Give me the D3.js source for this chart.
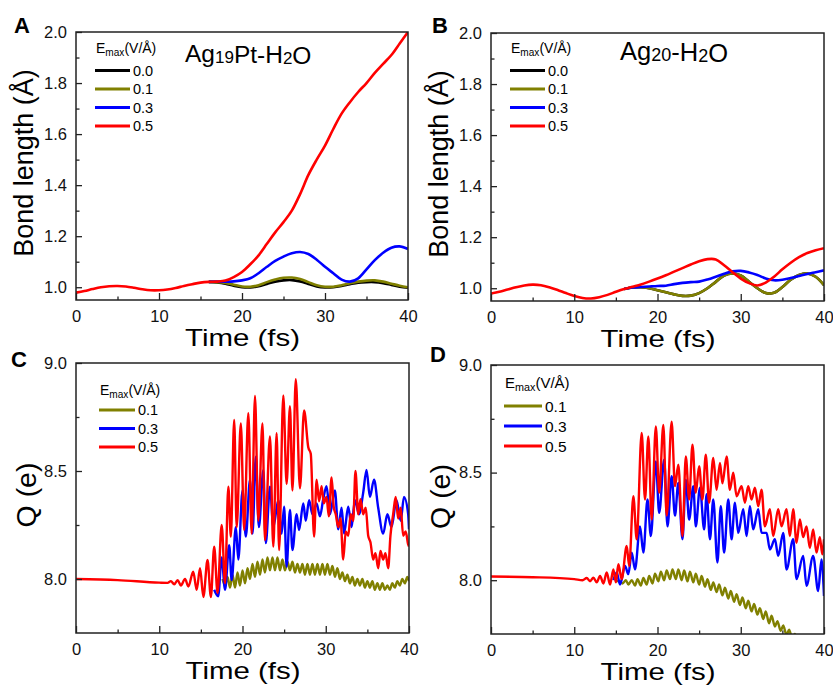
<!DOCTYPE html>
<html>
<head>
<meta charset="utf-8">
<script src="https://cdn.jsdelivr.net/npm/d3@7"></script>
<style>
  body { margin: 0; background: #fff; }
  svg { font-family: Arial, "Liberation Sans", sans-serif; }
</style>
</head>
<body>
<div id="chart"></div>
<script>
// ---- data ----
var fieldLabels = ["0.0", "0.1", "0.3", "0.5"];
var fieldColors = ["#000000", "#808000", "#0000ff", "#ff0000"];

var tFull = [0,1,2,3,4,5,6,7,8,9,10,11,12,13,14,15,16,17,18,19,20,21,22,23,24,25,26,27,28,29,30,31,32,33,34,35,36,37,38,39,40];
var tLate = [16,17,18,19,20,21,22,23,24,25,26,27,28,29,30,31,32,33,34,35,36,37,38,39,40];

// panel A : Ag19Pt-H2O bond length
var bondA_05 = [0.979,0.985,0.993,1.0,1.004,1.005,1.003,0.998,0.992,0.988,0.988,0.991,0.997,1.005,1.012,1.018,1.021,1.022,1.026,1.04,1.06,1.09,1.125,1.17,1.215,1.255,1.30,1.365,1.44,1.50,1.555,1.62,1.68,1.725,1.765,1.80,1.84,1.875,1.91,1.955,2.0];
var bondA_03 = [1.021,1.022,1.022,1.023,1.027,1.035,1.055,1.08,1.103,1.12,1.133,1.138,1.13,1.108,1.08,1.055,1.03,1.022,1.035,1.07,1.106,1.135,1.155,1.16,1.15];
var bondA_01 = [1.021,1.02,1.017,1.01,1.003,1.002,1.008,1.02,1.03,1.037,1.038,1.032,1.02,1.008,1.002,1.002,1.008,1.016,1.022,1.026,1.027,1.022,1.014,1.006,1.0];
var bondA_00 = [1.021,1.019,1.014,1.006,1.0,0.999,1.004,1.013,1.022,1.027,1.028,1.023,1.013,1.003,0.999,1.0,1.005,1.012,1.018,1.02,1.02,1.016,1.009,1.002,0.998];

// panel B : Ag20-H2O bond length
var bondB_05 = [0.979,0.986,0.995,1.004,1.011,1.014,1.012,1.004,0.993,0.981,0.97,0.962,0.96,0.965,0.974,0.986,0.997,1.006,1.015,1.026,1.038,1.051,1.065,1.079,1.093,1.106,1.114,1.113,1.09,1.063,1.038,1.02,1.011,1.022,1.045,1.074,1.1,1.122,1.138,1.149,1.157];
var bondB_03 = [0.997,1.003,1.005,1.007,1.009,1.01,1.016,1.021,1.024,1.026,1.034,1.045,1.057,1.066,1.068,1.062,1.052,1.038,1.031,1.033,1.04,1.048,1.056,1.063,1.07];
var bondB_01 = [0.997,1.003,1.004,1.0,0.992,0.984,0.976,0.97,0.971,0.981,1.0,1.025,1.05,1.058,1.05,1.025,1.0,0.981,0.982,1.005,1.033,1.052,1.058,1.045,1.012];
var bondB_00 = [0.997,1.003,1.004,1.0,0.992,0.984,0.976,0.97,0.971,0.981,1.0,1.025,1.05,1.058,1.05,1.025,1.0,0.981,0.982,1.005,1.033,1.052,1.058,1.045,1.012];

// panel C : Ag19Pt-H2O charge Q, [time, Q] pairs
var qC_05 = [[0,8.0],[5,7.995],[10,7.983],[11,7.982],[11.4,7.99],[11.8,7.975],[12.2,7.995],[12.6,7.97],[13.1,8.0],[13.5,7.965],[14.08,8.034],[14.5,7.95],[14.9,8.05],[15.3,7.917],[15.8,8.088],[16.2,7.917],[16.6,8.15],[17.0,7.935],[17.5,8.25],[17.9,7.98],[18.3,8.427],[18.6,8.196],[19.0,8.736],[19.3,8.24],[19.8,8.72],[20.2,8.227],[20.7,8.768],[21.1,8.21],[21.5,8.847],[21.9,8.27],[22.4,8.72],[22.7,8.18],[23.3,8.66],[23.7,8.15],[24.1,8.675],[24.4,8.134],[24.9,8.85],[25.3,8.44],[25.7,8.80],[26.0,8.41],[26.4,8.925],[26.9,8.42],[27.4,8.78],[27.9,8.61],[28.2,8.58],[28.6,8.196],[28.9,8.46],[29.2,8.36],[29.5,8.43],[29.77,8.35],[30.09,8.38],[30.37,8.29],[30.7,8.47],[30.97,8.33],[31.2,8.3],[31.5,8.24],[31.77,8.28],[32.1,8.09],[32.4,8.22],[32.7,8.2],[33.0,8.3],[33.3,8.27],[33.57,8.5],[33.9,8.3],[34.17,8.37],[34.5,8.3],[34.8,8.33],[35.1,8.2],[35.37,8.17],[35.7,8.09],[35.97,8.12],[36.3,8.05],[36.57,8.13],[36.9,8.09],[37.17,8.12],[37.5,8.05],[37.77,8.2],[38.1,8.3],[38.4,8.38],[38.7,8.28],[39.0,8.33],[39.3,8.2],[39.6,8.22],[39.9,8.16],[40,8.15]];
var qC_03 = [[16.6,7.95],[17.08,7.92],[17.5,8.10],[17.9,7.95],[18.4,8.157],[18.7,7.995],[19.2,8.24],[19.5,8.09],[20.0,8.41],[20.4,8.196],[20.9,8.46],[21.2,8.21],[21.6,8.566],[21.97,8.24],[22.5,8.505],[22.8,8.166],[23.3,8.427],[23.7,8.24],[24.3,8.365],[24.7,8.21],[25.0,8.335],[25.3,8.057],[25.7,8.32],[26.0,8.134],[26.5,8.3],[26.8,8.227],[27.3,8.35],[27.6,8.27],[28.0,8.365],[28.4,8.3],[28.9,8.35],[29.3,8.29],[29.7,8.37],[30.1,8.43],[30.5,8.30],[31.1,8.41],[31.5,8.23],[31.9,8.33],[32.2,8.21],[32.7,8.335],[33.1,8.24],[33.5,8.365],[34.0,8.3],[34.5,8.4],[34.9,8.505],[35.3,8.38],[35.8,8.46],[36.3,8.33],[36.9,8.21],[37.4,8.3],[37.9,8.24],[38.5,8.365],[39.0,8.27],[39.4,8.38],[39.9,8.3],[40,8.23]];
var qC_01 = [[17.6,8.0],[17.9,7.97],[18.2,8.01],[18.5,7.96],[18.8,8.02],[19.1,7.96],[19.4,8.03],[19.7,7.97],[20.0,8.04],[20.3,7.98],[20.6,8.05],[20.9,8.0],[21.2,8.07],[21.5,8.01],[21.8,8.08],[22.1,8.02],[22.4,8.09],[22.7,8.03],[23.0,8.1],[23.3,8.04],[23.6,8.1],[23.9,8.04],[24.2,8.1],[24.5,8.04],[24.8,8.09],[25.1,8.04],[25.4,8.08],[25.7,8.04],[26.0,8.08],[26.3,8.03],[26.6,8.07],[26.9,8.03],[27.2,8.07],[27.5,8.02],[27.8,8.07],[28.1,8.02],[28.4,8.07],[28.7,8.02],[29.0,8.07],[29.3,8.02],[29.6,8.07],[29.9,8.02],[30.2,8.07],[30.5,8.02],[30.8,8.06],[31.1,8.01],[31.4,8.05],[31.7,8.0],[32.0,8.03],[32.3,7.99],[32.6,8.02],[32.9,7.98],[33.2,8.01],[33.5,7.97],[33.8,8.0],[34.1,7.97],[34.4,8.0],[34.7,7.96],[35.0,7.99],[35.3,7.96],[35.6,7.99],[35.9,7.95],[36.2,7.98],[36.5,7.95],[36.8,7.98],[37.1,7.95],[37.4,7.97],[37.7,7.95],[38.0,7.98],[38.3,7.96],[38.6,7.99],[38.9,7.97],[39.2,8.0],[39.5,7.98],[39.8,8.01],[40,7.99]];

// panel D : Ag20-H2O charge Q, [time, Q] pairs
var qD_05 = [[0,8.017],[5,8.014],[10,8.005],[11,8.0],[11.5,8.01],[11.9,7.995],[12.3,8.012],[12.7,7.99],[13.1,8.02],[13.5,7.985],[13.9,8.036],[14.3,7.98],[14.7,8.05],[15.0,7.99],[15.3,8.074],[15.7,8.005],[16.3,8.159],[16.6,8.066],[17.1,8.39],[17.5,8.19],[18.1,8.684],[18.5,8.375],[18.9,8.668],[19.3,8.282],[19.8,8.714],[20.2,8.406],[20.7,8.722],[21.1,8.3],[21.7,8.737],[22.1,8.437],[22.5,8.537],[23.0,8.205],[23.4,8.575],[23.8,8.375],[24.2,8.63],[24.6,8.406],[25.0,8.53],[25.4,8.375],[25.8,8.583],[26.2,8.36],[26.7,8.568],[27.1,8.42],[27.5,8.545],[27.8,8.45],[28.3,8.575],[28.7,8.42],[29.1,8.5],[29.5,8.39],[30.1,8.437],[30.5,8.36],[30.9,8.437],[31.3,8.375],[31.7,8.43],[32.1,8.344],[32.5,8.42],[32.9,8.25],[33.5,8.33],[33.9,8.205],[34.5,8.33],[34.9,8.25],[35.5,8.33],[35.9,8.205],[36.3,8.33],[36.7,8.174],[37.1,8.282],[37.5,8.2],[37.9,8.25],[38.3,8.15],[38.7,8.236],[39.1,8.128],[39.5,8.2],[39.8,8.12],[40,8.19]];
var qD_03 = [[14.7,8.0],[15.1,8.036],[15.5,7.98],[16.1,8.066],[16.5,8.028],[16.9,8.128],[17.3,8.05],[17.9,8.25],[18.3,8.128],[18.8,8.375],[19.2,8.205],[19.8,8.552],[20.2,8.313],[20.8,8.56],[21.2,8.25],[21.7,8.483],[22.1,8.3],[22.5,8.452],[23.0,8.19],[23.4,8.467],[23.8,8.282],[24.3,8.437],[24.6,8.25],[25.1,8.43],[25.6,8.236],[25.9,8.4],[26.3,8.19],[26.7,8.375],[27.2,8.082],[27.6,8.344],[28.0,8.128],[28.5,8.375],[28.9,8.19],[29.3,8.36],[29.7,8.22],[30.3,8.33],[30.7,8.205],[31.1,8.344],[31.5,8.236],[32.1,8.33],[32.5,8.22],[33.1,8.22],[33.5,8.143],[34.1,8.19],[34.5,8.113],[35.1,8.22],[35.5,8.05],[36.3,8.19],[36.7,8.005],[37.5,8.113],[37.9,7.974],[38.7,8.113],[39.3,7.95],[39.7,8.097],[40,7.927]];
var qD_01 = [[15.0,7.995],[15.4,7.997],[15.8,7.985],[16.2,8.0],[16.5,7.98],[16.9,8.0],[17.3,7.975],[17.6,8.005],[18.0,7.975],[18.3,8.01],[18.7,7.98],[19.0,8.02],[19.4,7.985],[19.7,8.03],[20.1,7.995],[20.4,8.04],[20.8,8.0],[21.1,8.045],[21.5,8.005],[21.8,8.05],[22.2,8.005],[22.5,8.05],[22.9,8.0],[23.2,8.045],[23.6,7.995],[23.9,8.04],[24.3,7.99],[24.6,8.03],[25.0,7.98],[25.3,8.02],[25.7,7.97],[26.0,8.005],[26.4,7.955],[26.7,7.99],[27.1,7.945],[27.4,7.98],[27.8,7.93],[28.1,7.965],[28.5,7.915],[28.8,7.95],[29.2,7.9],[29.5,7.935],[29.9,7.885],[30.2,7.92],[30.6,7.87],[30.9,7.905],[31.3,7.855],[31.6,7.89],[32.0,7.84],[32.3,7.87],[32.7,7.82],[33.0,7.855],[33.4,7.8],[33.7,7.835],[34.1,7.785],[34.4,7.81],[34.8,7.765],[35.1,7.79],[35.5,7.745],[35.8,7.77],[36.2,7.73],[36.5,7.75],[36.9,7.7]];

var xMajor = [0, 10, 20, 30, 40];
var xMinor = [5, 15, 25, 35];
var bondMajor = [1.0, 1.2, 1.4, 1.6, 1.8, 2.0];
var bondMinor = [1.1, 1.3, 1.5, 1.7, 1.9];
var qMajor = [8.0, 8.5, 9.0];
var qMinor = [8.25, 8.75];

// ---- svg ----
var svg = d3.select("#chart").append("svg")
  .attr("width", 833)
  .attr("height", 685);

svg.append("rect").attr("width", 833).attr("height", 685).attr("fill", "#fff");

function pairs(ts, vs) {
  return ts.map(function(t, i) { return [t, vs[i]]; });
}

function drawPanel(p) {
  var g = svg.append("g").attr("transform", `translate(${p.left}, ${p.top})`);

  var x = d3.scaleLinear().domain([0, 40]).range([0, p.width]);
  var y = d3.scaleLinear().domain(p.yDomain).range([p.height, 0]);

  g.append("clipPath").attr("id", "clip" + p.id)
    .append("rect").attr("width", p.width).attr("height", p.height);

  // lines
  var line = d3.line()
    .x(function(d) { return x(d[0]); })
    .y(function(d) { return y(d[1]); })
    .curve(p.curve);

  var lines = g.append("g").attr("clip-path", `url(#clip${p.id})`);
  p.series.forEach(function(s) {
    lines.append("path")
      .datum(s.data)
      .attr("d", line)
      .attr("fill", "none")
      .attr("stroke", s.color)
      .attr("stroke-width", p.lineWidth)
      .attr("stroke-linejoin", "round");
  });

  // axes, ticks pointing inward
  var xAx = g.append("g").attr("transform", `translate(0, ${p.height})`)
    .call(d3.axisBottom(x).tickValues(xMajor).tickSize(-7).tickPadding(10).tickFormat(d3.format("d")));
  var xAxMinor = g.append("g").attr("transform", `translate(0, ${p.height})`)
    .call(d3.axisBottom(x).tickValues(xMinor).tickSize(-3.5).tickFormat(""));
  var yAx = g.append("g")
    .call(d3.axisLeft(y).tickValues(p.yMajor).tickSize(-6).tickPadding(9).tickFormat(d3.format(".1f")));
  var yAxMinor = g.append("g")
    .call(d3.axisLeft(y).tickValues(p.yMinor).tickSize(-3.5).tickFormat(""));

  [xAx, xAxMinor, yAx, yAxMinor].forEach(function(a) {
    a.select(".domain").remove();
    a.selectAll("line").attr("stroke", "#222").attr("stroke-width", 1.3);
    a.selectAll("text").attr("font-size", "16.5px").attr("fill", "#111")
      .attr("font-family", "Arial, 'Liberation Sans', sans-serif");
  });

  // frame
  g.append("rect")
    .attr("width", p.width).attr("height", p.height)
    .attr("fill", "none").attr("stroke", "#222").attr("stroke-width", 1.5);

  // axis titles (the source is drawn a little wide, so stretch to its width)
  g.append("text")
    .attr("x", p.width / 2 - 57).attr("y", p.height + 46)
    .attr("font-size", "24px")
    .attr("textLength", 115)
    .attr("lengthAdjust", "spacingAndGlyphs")
    .text("Time (fs)");

  g.append("text")
    .attr("transform", `translate(${-p.yTitleOffset}, ${p.height / 2 - 3}) rotate(-90)`)
    .attr("text-anchor", "middle")
    .attr("font-size", p.yTitleSize)
    .text(p.yTitle);

  // panel letter
  svg.append("text")
    .attr("x", p.letterX).attr("y", p.letterY)
    .attr("font-size", "22px").attr("font-weight", "bold")
    .text(p.letter);

  // legend
  var lg = svg.append("g").attr("transform", `translate(${p.legend.x}, ${p.legend.y})`);
  var head = lg.append("text").attr("x", 1).attr("y", 0).attr("font-size", p.legend.font + "px");
  head.append("tspan").text("E");
  head.append("tspan").attr("font-size", (p.legend.font * 0.72) + "px").attr("dy", 3).text("max");
  head.append("tspan").attr("dy", -3).text("(V/Å)");

  p.series.slice().sort(function(a, b) { return a.order - b.order; }).forEach(function(s, i) {
    var yy = p.legend.firstRow + i * p.legend.rowGap;
    lg.append("line")
      .attr("x1", 0).attr("x2", p.legend.lineLen)
      .attr("y1", yy).attr("y2", yy)
      .attr("stroke", s.color).attr("stroke-width", 3);
    lg.append("text")
      .attr("x", p.legend.lineLen + 3).attr("y", yy)
      .attr("dy", "0.36em")
      .attr("font-size", (p.legend.font + 0.5) + "px")
      .text(s.label);
  });

  // system title
  if (p.title) {
    var tt = svg.append("text")
      .attr("x", p.title.x).attr("y", p.title.y)
      .attr("font-size", p.title.size + "px");
    p.title.parts.forEach(function(part) {
      if (part.sub) {
        tt.append("tspan").attr("font-size", p.title.subSize + "px").attr("dy", 1).text(part.t);
        tt.append("tspan").attr("dy", -1).text("");
      } else {
        tt.append("tspan").text(part.t);
      }
    });
  }
}

// A
drawPanel({
  id: "A", letter: "A", letterX: 14, letterY: 33,
  left: 76, top: 32, width: 332, height: 268,
  yDomain: [0.95, 2.0], yMajor: bondMajor, yMinor: bondMinor,
  yTitle: "Bond length (Å)", yTitleSize: "27px", yTitleOffset: 43,
  curve: d3.curveCatmullRom, lineWidth: 2.6,
  series: [
    { label: fieldLabels[0], color: fieldColors[0], order: 0, data: pairs(tLate, bondA_00) },
    { label: fieldLabels[1], color: fieldColors[1], order: 1, data: pairs(tLate, bondA_01) },
    { label: fieldLabels[2], color: fieldColors[2], order: 2, data: pairs(tLate, bondA_03) },
    { label: fieldLabels[3], color: fieldColors[3], order: 3, data: pairs(tFull, bondA_05) }
  ],
  legend: { x: 95, y: 53, font: 14, firstRow: 17.5, rowGap: 18.5, lineLen: 35 },
  title: { x: 185, y: 62, size: 24.5, subSize: 17,
    parts: [{ t: "Ag" }, { t: "19", sub: true }, { t: "Pt-H" }, { t: "2", sub: true }, { t: "O" }] }
});

// B
drawPanel({
  id: "B", letter: "B", letterX: 432, letterY: 33,
  left: 491, top: 33, width: 333, height: 268,
  yDomain: [0.95, 2.0], yMajor: bondMajor, yMinor: bondMinor,
  yTitle: "Bond length (Å)", yTitleSize: "27px", yTitleOffset: 43,
  curve: d3.curveCatmullRom, lineWidth: 2.6,
  series: [
    { label: fieldLabels[0], color: fieldColors[0], order: 0, data: pairs(tLate, bondB_00) },
    { label: fieldLabels[1], color: fieldColors[1], order: 1, data: pairs(tLate, bondB_01) },
    { label: fieldLabels[2], color: fieldColors[2], order: 2, data: pairs(tLate, bondB_03) },
    { label: fieldLabels[3], color: fieldColors[3], order: 3, data: pairs(tFull, bondB_05) }
  ],
  legend: { x: 510, y: 53, font: 14, firstRow: 17.5, rowGap: 18.5, lineLen: 35 },
  title: { x: 620, y: 60, size: 25.5, subSize: 18,
    parts: [{ t: "Ag" }, { t: "20", sub: true }, { t: "-H" }, { t: "2", sub: true }, { t: "O" }] }
});

// C
drawPanel({
  id: "C", letter: "C", letterX: 11, letterY: 367,
  left: 76, top: 363, width: 333, height: 270,
  yDomain: [7.75, 9.0], yMajor: qMajor, yMinor: qMinor,
  yTitle: "Q (e)", yTitleSize: "28.5px", yTitleOffset: 40,
  curve: d3.curveMonotoneX, lineWidth: 2.4,
  series: [
    { label: fieldLabels[1], color: fieldColors[1], order: 1, data: qC_01 },
    { label: fieldLabels[2], color: fieldColors[2], order: 2, data: qC_03 },
    { label: fieldLabels[3], color: fieldColors[3], order: 3, data: qC_05 }
  ],
  legend: { x: 99, y: 395, font: 14, firstRow: 15, rowGap: 18.5, lineLen: 36 },
  title: null
});

// D
drawPanel({
  id: "D", letter: "D", letterX: 430, letterY: 362,
  left: 491, top: 365, width: 333, height: 269,
  yDomain: [7.75, 9.0], yMajor: qMajor, yMinor: qMinor,
  yTitle: "Q (e)", yTitleSize: "28.5px", yTitleOffset: 41,
  curve: d3.curveMonotoneX, lineWidth: 2.4,
  series: [
    { label: fieldLabels[1], color: fieldColors[1], order: 1, data: qD_01 },
    { label: fieldLabels[2], color: fieldColors[2], order: 2, data: qD_03 },
    { label: fieldLabels[3], color: fieldColors[3], order: 3, data: qD_05 }
  ],
  legend: { x: 504, y: 388, font: 15, firstRow: 18, rowGap: 20, lineLen: 38 },
  title: null
});
</script>
</body>
</html>
